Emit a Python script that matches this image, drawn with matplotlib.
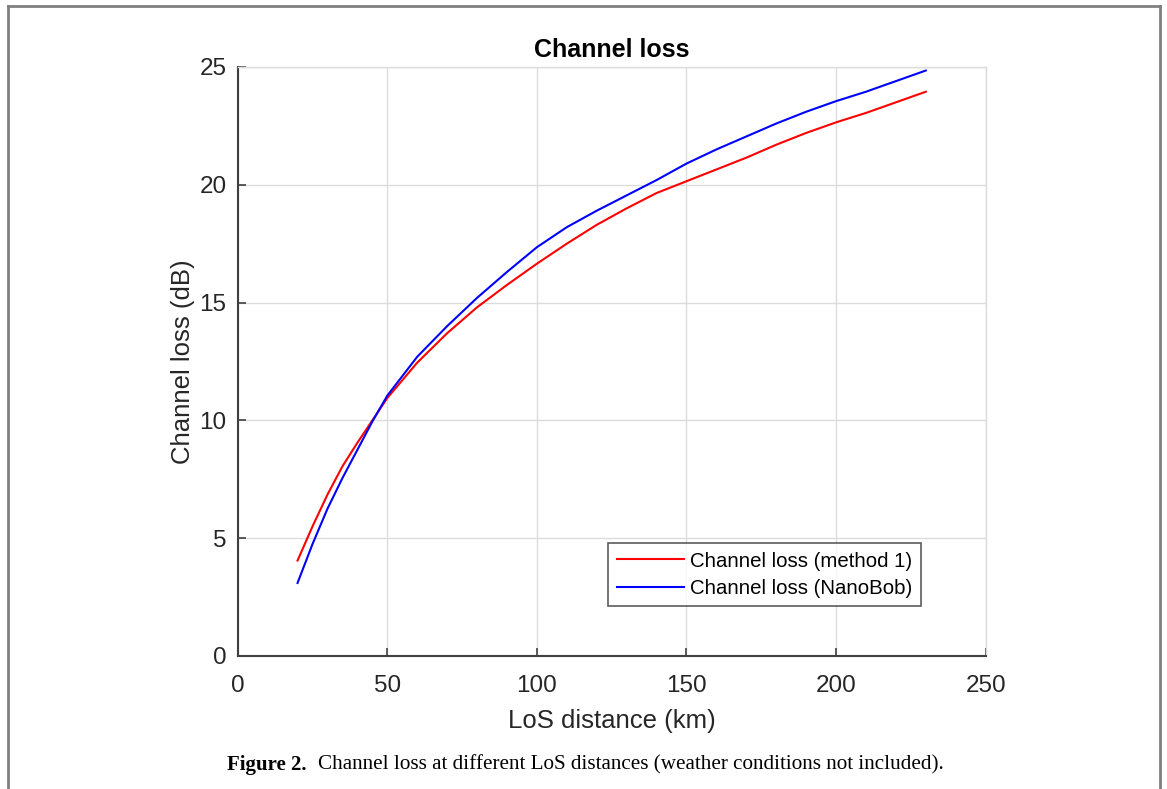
import matplotlib.pyplot as plt
from matplotlib.lines import Line2D

# LoS distance (km)
dist = [20, 25, 30, 35, 40, 45, 50, 60, 70, 80, 90, 100, 110, 120, 130,
        140, 150, 160, 170, 180, 190, 200, 210, 220, 230]
# channel loss (dB)
loss_method1 = [4.05, 5.5, 6.85, 8.05, 9.05, 10.0, 10.95, 12.45, 13.7, 14.8, 15.75,
                16.65, 17.5, 18.3, 19.0, 19.65, 20.15, 20.65, 21.15, 21.7, 22.2,
                22.65, 23.05, 23.5, 23.95]
loss_nanobob = [3.1, 4.75, 6.25, 7.55, 8.75, 9.95, 11.05, 12.7, 14.0, 15.2, 16.3,
                17.35, 18.2, 18.9, 19.55, 20.2, 20.9, 21.5, 22.05, 22.6, 23.1,
                23.55, 23.95, 24.4, 24.85]

xticks = [0, 50, 100, 150, 200, 250]
yticks = [0, 5, 10, 15, 20, 25]

plt.rcParams['font.family'] = ['Liberation Sans', 'DejaVu Sans']

fig = plt.figure(figsize=(11.67, 7.89), dpi=100)
ax = fig.add_axes([0.2037, 0.1686, 0.8446 - 0.2037, 0.9151 - 0.1686])

ax.plot(dist, loss_method1, color='red', lw=1.5, label='Channel loss (method 1)')
ax.plot(dist, loss_nanobob, color='blue', lw=1.5, label='Channel loss (NanoBob)')

ax.set_xlim(0, 250)
ax.set_ylim(0, 25)
ax.set_xticks(xticks)
ax.set_yticks(yticks)
ax.grid(True, color='#dcdcdc', lw=1.0)
ax.set_axisbelow(True)

for s in ['top', 'right']:
    ax.spines[s].set_color('#dcdcdc')
    ax.spines[s].set_linewidth(1.0)
for s in ['left', 'bottom']:
    ax.spines[s].set_color('#404040')
    ax.spines[s].set_linewidth(1.5)

ax.tick_params(direction='in', length=6, width=1.2, color='#404040',
               labelsize=17.5, labelcolor='#262626', top=False, right=False)
ax.tick_params(axis='x', pad=14)
ax.tick_params(axis='y', pad=8)

ax.set_title('Channel loss', fontsize=18, fontweight='bold', pad=7)
ax.set_xlabel('LoS distance (km)', fontsize=18.5, color='#262626', labelpad=8)
ax.set_ylabel('Channel loss (dB)', fontsize=18.5, color='#262626', labelpad=3)

leg = ax.legend(loc='lower right', bbox_to_anchor=(0.913, 0.085), fontsize=14.7,
                frameon=True, fancybox=False, handlelength=3.3, handletextpad=0.3,
                borderpad=0.4, labelspacing=0.4, borderaxespad=0)
leg.get_frame().set_edgecolor('#333333')
leg.get_frame().set_linewidth(1.2)

# page frame around the figure
fig.add_artist(Line2D([8 / 1167, 8 / 1167], [-0.1, 1 - 6 / 789], color='#808080', lw=2))
fig.add_artist(Line2D([8 / 1167, 1160 / 1167], [1 - 6 / 789, 1 - 6 / 789], color='#808080', lw=2))
fig.add_artist(Line2D([1160 / 1167, 1160 / 1167], [-0.1, 1 - 6 / 789], color='#808080', lw=2))

# caption
fig.text(227 / 1167, 1 - 765 / 789, 'Figure 2.', family='Liberation Serif', fontsize=15,
         fontweight='bold', va='center', ha='left')
fig.text(318 / 1167, 1 - 765 / 789,
         'Channel loss at different LoS distances (weather conditions not included).',
         family='Liberation Serif', fontsize=15.2, va='center', ha='left')

fig.savefig('out.png', dpi=100)
